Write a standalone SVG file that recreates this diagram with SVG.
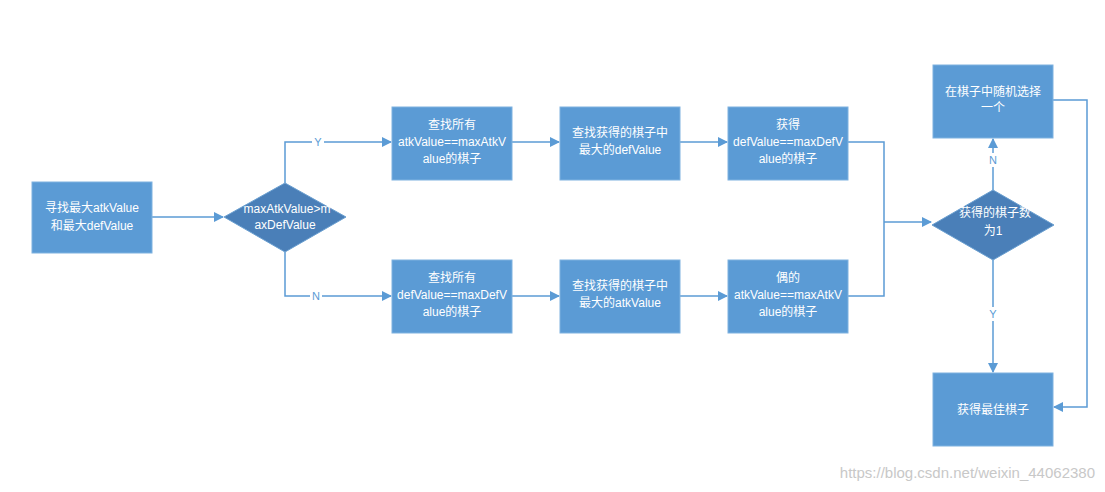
<svg xmlns="http://www.w3.org/2000/svg" width="1105" height="492" viewBox="0 0 1105 492">
<style>
.b{fill:#5b9bd5;stroke:#7fb2e0;stroke-width:1}
.d{fill:#4a7fb8;stroke:#6a9fd0;stroke-width:1}
.t{font-family:"Liberation Sans","Noto Sans CJK SC",sans-serif;font-size:12px;fill:#fff;text-anchor:middle}
.l{fill:none;stroke:#5b9bd5;stroke-width:1.5;marker-end:url(#a)}
.n{fill:none;stroke:#5b9bd5;stroke-width:1.5}
.lb{font-family:"Liberation Sans",sans-serif;font-size:11px;fill:#5b9bd5;text-anchor:middle}
</style>
<defs><marker id="a" markerWidth="10" markerHeight="10" refX="9" refY="5" orient="auto" markerUnits="userSpaceOnUse"><path d="M0,0 L10,5 L0,10 Z" fill="#5b9bd5"/></marker></defs>
<rect width="1105" height="492" fill="#fff"/>
<g id="connectors">
<path class="l" d="M152,217 H223"/>
<path class="l" d="M285,183 V142 H391"/>
<path class="l" d="M285,252 V296 H391"/>
<path class="l" d="M512,142 H559"/>
<path class="l" d="M680,142 H727"/>
<path class="l" d="M512,296 H559"/>
<path class="l" d="M680,296 H727"/>
<path class="n" d="M848,142 H884 V296 H848"/>
<path class="l" d="M884,222 H931"/>
<path class="l" d="M993,190 V139"/>
<path class="l" d="M993,260 V372"/>
<path class="l" d="M1053,100 H1087 V407 H1054"/>
<rect x="312" y="135" width="12" height="14" fill="#fff"/><text class="lb" x="318" y="146">Y</text>
<rect x="310" y="289" width="12" height="14" fill="#fff"/><text class="lb" x="316" y="300">N</text>
<rect x="987" y="153" width="12" height="14" fill="#fff"/><text class="lb" x="993" y="164">N</text>
<rect x="987" y="307" width="12" height="14" fill="#fff"/><text class="lb" x="993" y="318">Y</text>
</g>
<g id="start"><rect class="b" x="32" y="182" width="120" height="71"/><text class="t" x="92" y="212">寻找最大atkValue</text><text class="t" x="92" y="230">和最大defValue</text></g>
<g id="dec1"><polygon class="d" points="285,183 346,217 285,252 224,217"/><text class="t" x="287" y="213">maxAtkValue&gt;m</text><text class="t" x="285" y="229">axDefValue</text></g>
<g id="a1"><rect class="b" x="392" y="107" width="120" height="73"/><text class="t" x="452" y="129">查找所有</text><text class="t" x="452" y="146">atkValue==maxAtkV</text><text class="t" x="452" y="163">alue的棋子</text></g>
<g id="a2"><rect class="b" x="560" y="107" width="120" height="73"/><text class="t" x="620" y="137">查找获得的棋子中</text><text class="t" x="620" y="154">最大的defValue</text></g>
<g id="a3"><rect class="b" x="728" y="107" width="120" height="73"/><text class="t" x="788" y="129">获得</text><text class="t" x="788" y="146">defValue==maxDefV</text><text class="t" x="788" y="163">alue的棋子</text></g>
<g id="b1"><rect class="b" x="392" y="260" width="120" height="73"/><text class="t" x="452" y="282">查找所有</text><text class="t" x="452" y="299">defValue==maxDefV</text><text class="t" x="452" y="316">alue的棋子</text></g>
<g id="b2"><rect class="b" x="560" y="260" width="120" height="73"/><text class="t" x="620" y="290">查找获得的棋子中</text><text class="t" x="620" y="307">最大的atkValue</text></g>
<g id="b3"><rect class="b" x="728" y="260" width="120" height="73"/><text class="t" x="788" y="282">偶的</text><text class="t" x="788" y="299">atkValue==maxAtkV</text><text class="t" x="788" y="316">alue的棋子</text></g>
<g id="dec2"><polygon class="d" points="993,190 1054,225 993,260 932,225"/><text class="t" x="995" y="217">获得的棋子数</text><text class="t" x="993" y="235">为1</text></g>
<g id="rand"><rect class="b" x="933" y="65" width="120" height="73"/><text class="t" x="993" y="96">在棋子中随机选择</text><text class="t" x="993" y="112">一个</text></g>
<g id="best"><rect class="b" x="933" y="373" width="120" height="73"/><text class="t" x="993" y="414">获得最佳棋子</text></g>
<text x="1095" y="478" font-family="Liberation Sans,sans-serif" font-size="15" fill="#c8c8c8" text-anchor="end">https://blog.csdn.net/weixin_44062380</text>
</svg>
